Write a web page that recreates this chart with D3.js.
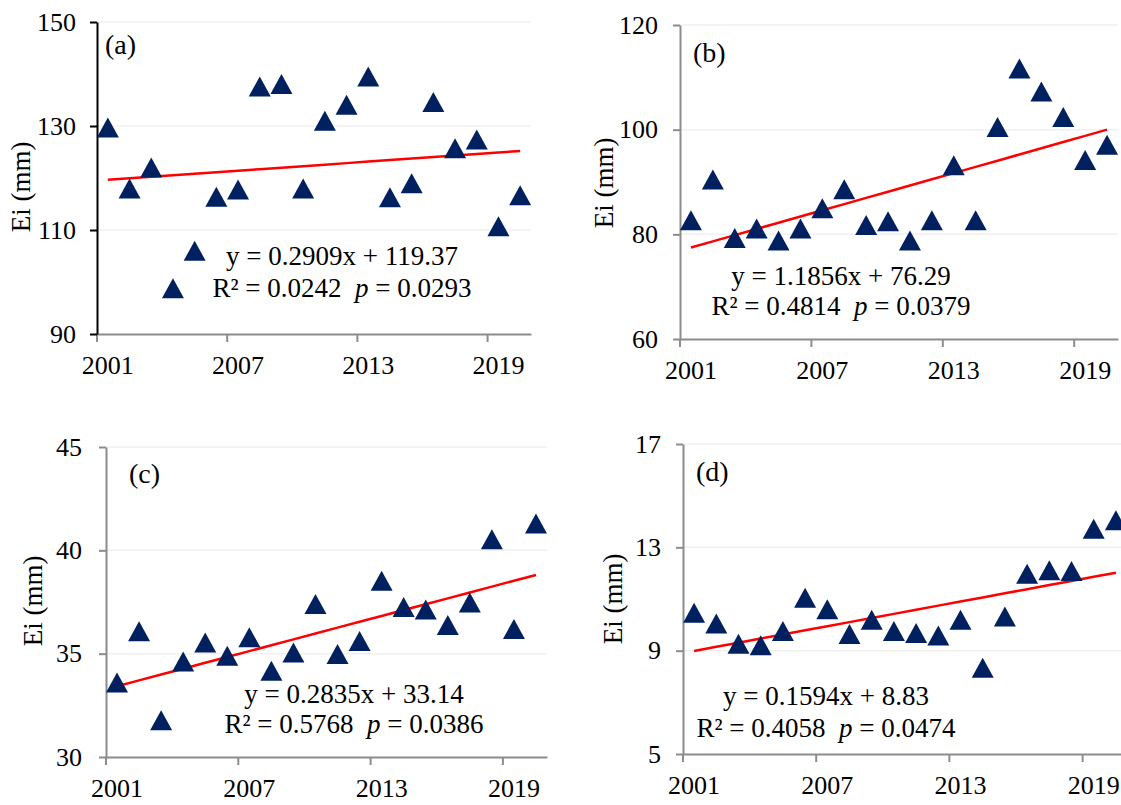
<!DOCTYPE html>
<html>
<head>
<meta charset="utf-8">
<script src="https://cdn.jsdelivr.net/npm/d3@7"></script>
<style>
  html, body { margin: 0; padding: 0; background: #ffffff; }
  svg { display: block; }
  svg text { font-family: "Liberation Serif", "Times New Roman", serif !important; fill: #000; }
</style>
</head>
<body>
<svg id="chart" width="1121" height="805"></svg>
<script>
// ---- data ----
const years = [2001, 2002, 2003, 2004, 2005, 2006, 2007, 2008, 2009, 2010,
               2011, 2012, 2013, 2014, 2015, 2016, 2017, 2018, 2019, 2020];
const xTickYears = [2001, 2007, 2013, 2019];

const eiA = [129.7, 118.0, 122.0, 98.8, 106.0, 116.4, 117.8, 137.6, 138.1, 118.0,
             131.0, 134.1, 139.5, 116.3, 119.0, 134.6, 125.7, 127.4, 110.7, 116.7];
const eiB = [82.7, 90.5, 79.3, 81.1, 78.8, 81.1, 85.0, 88.6, 81.8, 82.5,
             78.8, 82.7, 93.2, 82.7, 100.5, 111.7, 107.3, 102.4, 94.2, 97.1];
const eiC = [33.6, 36.08, 31.78, 34.62, 35.54, 34.9, 35.79, 34.17, 35.06, 37.4,
             34.98, 35.61, 38.53, 37.26, 37.14, 36.39, 37.48, 40.54, 36.19, 41.3];
const eiD = [10.47, 10.05, 9.27, 9.21, 9.76, 11.05, 10.6, 9.65, 10.2, 9.76,
             9.68, 9.59, 10.2, 8.34, 10.32, 11.98, 12.11, 12.08, 13.72, 14.05];

const yTicksA = [90, 110, 130, 150];
const yTicksB = [60, 80, 100, 120];
const yTicksC = [30, 35, 40, 45];
const yTicksD = [5, 9, 13, 17];

const panelTags = ["(a)", "(b)", "(c)", "(d)"];
const fitSlope = [0.2909, 1.1856, 0.2835, 0.1594];
const fitIntercept = [119.37, 76.29, 33.14, 8.83];
const rSquared = ["0.0242", "0.4814", "0.5768", "0.4058"];
const pValues = ["0.0293", "0.0379", "0.0386", "0.0474"];
const yTitle = "Ei (mm)";

// ---- layout ----
const panels = [
  { values: eiA, yTicks: yTicksA, left: 97,  right: 531,  top: 22,  bottom: 334,
    yAxisColor: "#000000", tag: [105, 54], title: [30, 187], eq: [342, 265, 297], labelGap: 14 },
  { values: eiB, yTicks: yTicksB, left: 680, right: 1118, top: 25,  bottom: 339,
    yAxisColor: "#8c8c8c", tag: [693, 62], title: [613, 183], eq: [841, 285, 315], labelGap: 15 },
  { values: eiC, yTicks: yTicksC, left: 106, right: 547,  top: 447, bottom: 757,
    yAxisColor: "#8c8c8c", tag: [129, 483], title: [42, 601], eq: [354, 703, 733], labelGap: 17 },
  { values: eiD, yTicks: yTicksD, left: 683, right: 1127, top: 444, bottom: 754,
    yAxisColor: "#8c8c8c", tag: [696, 481], title: [622, 599], eq: [826, 705, 737], labelGap: 15 }
];

const SERIF = "'Liberation Serif','Times New Roman',serif";
const TICK_FONT = 26;
const TEXT_FONT = 27;
const markerColor = "#002060";
const gridColor = "#f0f0f0";
const xAxisColor = "#8c8c8c";
const triW = 22, triH = 20;

const svg = d3.select("#chart");

panels.forEach((p, i) => {
  const g = svg.append("g").attr("font-family", SERIF);
  const x = d3.scaleBand().domain(years).range([p.left, p.right]).paddingInner(0).paddingOuter(0);
  const half = x.bandwidth() / 2;
  const yMin = p.yTicks[0], yMax = p.yTicks[p.yTicks.length - 1];
  const y = d3.scaleLinear().domain([yMin, yMax]).range([p.bottom, p.top]);

  // horizontal gridlines
  g.append("g").selectAll("line")
    .data(p.yTicks.slice(1))
    .join("line")
    .attr("x1", p.left).attr("x2", p.right)
    .attr("y1", d => y(d)).attr("y2", d => y(d))
    .attr("stroke", gridColor).attr("stroke-width", 1.5);

  // x axis: labels at category centres, tick marks at category boundaries
  const xAxis = g.append("g")
    .attr("transform", `translate(0,${p.bottom})`)
    .call(d3.axisBottom(x).tickValues(xTickYears).tickSize(8).tickSizeOuter(0));
  xAxis.attr("font-family", SERIF);
  xAxis.select(".domain").attr("stroke", xAxisColor).attr("stroke-width", 2);
  xAxis.selectAll(".tick line")
    .attr("transform", `translate(${-half},0)`)
    .attr("stroke", xAxisColor).attr("stroke-width", 2);
  xAxis.selectAll(".tick text")
    .attr("y", 40).attr("dy", null)
    .attr("font-family", SERIF)
    .attr("fill", "#000").style("font-size", TICK_FONT + "px");

  // y axis
  const yAxis = g.append("g")
    .attr("transform", `translate(${p.left},0)`)
    .call(d3.axisLeft(y).tickValues(p.yTicks).tickSize(7).tickSizeOuter(0).tickPadding(p.labelGap));
  yAxis.attr("font-family", SERIF);
  yAxis.select(".domain").attr("stroke", p.yAxisColor).attr("stroke-width", 2);
  yAxis.selectAll(".tick line").attr("stroke", p.yAxisColor).attr("stroke-width", 2);
  yAxis.selectAll(".tick text")
    .attr("font-family", SERIF)
    .attr("fill", "#000").style("font-size", TICK_FONT + "px");

  // linear trend from the fitted equation (x = 1..20)
  const line = d3.line()
    .x((d, k) => x(years[k]) + half)
    .y((d, k) => y(fitSlope[i] * (k + 1) + fitIntercept[i]));
  g.append("path")
    .datum(years)
    .attr("d", line)
    .attr("fill", "none")
    .attr("stroke", "#ff0000")
    .attr("stroke-width", 2.5);

  // triangle markers
  const tri = `M0,${-triH / 2}L${triW / 2},${triH / 2}L${-triW / 2},${triH / 2}Z`;
  g.append("g").selectAll("path")
    .data(p.values)
    .join("path")
    .attr("d", tri)
    .attr("transform", (d, k) => `translate(${x(years[k]) + half},${y(d)})`)
    .attr("fill", markerColor);

  // panel tag
  g.append("text")
    .attr("x", p.tag[0]).attr("y", p.tag[1])
    .attr("font-family", SERIF)
    .style("font-size", "28px")
    .text(panelTags[i]);

  // y axis title
  g.append("text")
    .attr("transform", `translate(${p.title[0]},${p.title[1]}) rotate(-90)`)
    .attr("text-anchor", "middle")
    .attr("font-family", SERIF)
    .style("font-size", TEXT_FONT + "px")
    .text(yTitle);

  // equation and statistics
  const sign = fitIntercept[i] >= 0 ? "+" : "−";
  g.append("text")
    .attr("x", p.eq[0]).attr("y", p.eq[1])
    .attr("text-anchor", "middle")
    .attr("font-family", SERIF)
    .style("font-size", TEXT_FONT + "px")
    .text(`y = ${fitSlope[i]}x ${sign} ${fitIntercept[i]}`);

  const stat = g.append("text")
    .attr("x", p.eq[0]).attr("y", p.eq[2])
    .attr("text-anchor", "middle")
    .attr("font-family", SERIF)
    .style("font-size", TEXT_FONT + "px")
    .style("white-space", "pre");
  stat.append("tspan").text(`R² = ${rSquared[i]}  `);
  stat.append("tspan").style("font-style", "italic").text("p");
  stat.append("tspan").text(` = ${pValues[i]}`);
});
</script>
</body>
</html>
